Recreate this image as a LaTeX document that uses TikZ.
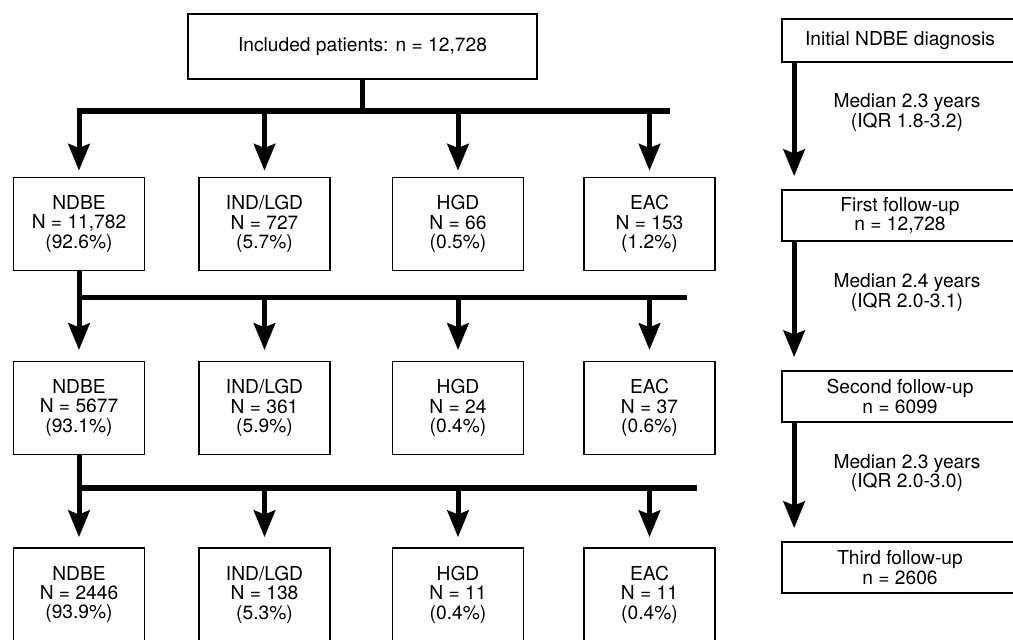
\documentclass[tikz,border=0pt]{standalone}
\usepackage{fontspec}
\setmainfont{TeX Gyre Heros}
\usetikzlibrary{arrows.meta,positioning}

\newcommand{\boxfont}{\fontsize{14.4pt}{14.6pt}\selectfont}

\begin{document}
\begin{tikzpicture}[x=0.75pt,y=-0.75pt,
  topbox/.style={draw,line width=1.3pt,minimum width=261.75pt,minimum height=48.75pt,inner sep=0pt,font=\boxfont},
  catbox/.style={draw,line width=1.3pt,minimum width=98.25pt,minimum height=69.75pt,inner sep=0pt,align=center,font=\boxfont},
  stagebox/.style={draw,line width=1.3pt,minimum width=177pt,minimum height=38.25pt,inner sep=0pt,align=center,font=\boxfont},
  note/.style={inner sep=0pt,align=center,font=\boxfont},
  flow/.style={line width=3.75pt,-{Stealth[length=20pt,width=16pt,inset=3pt]}},
  bar/.style={line width=4.2pt}]

\useasboundingbox (0,0) rectangle (1013,639);

%top box
\node[topbox] (incl) at (362.5,46.5) {Included patients: n = 12,728};

%first follow-up
\node[catbox] (ndbeA) at (79,224) {NDBE\\N = 11,782\\(92.6\%)};
\node[catbox] (indA) at (264.5,224) {IND/LGD\\N = 727\\(5.7\%)};
\node[catbox] (hgdA) at (458,224) {HGD\\N = 66\\(0.5\%)};
\node[catbox] (eacA) at (649.5,224) {EAC\\N = 153\\(1.2\%)};

%second follow-up
\node[catbox] (ndbeB) at (79,408) {NDBE\\N = 5677\\(93.1\%)};
\node[catbox] (indB) at (264.5,408) {IND/LGD\\N = 361\\(5.9\%)};
\node[catbox] (hgdB) at (458,408) {HGD\\N = 24\\(0.4\%)};
\node[catbox] (eacB) at (649.5,408) {EAC\\N = 37\\(0.6\%)};

%third follow-up
\node[catbox] (ndbeC) at (79,594.5) {NDBE\\N = 2446\\(93.9\%)};
\node[catbox] (indC) at (264.5,594.5) {IND/LGD\\N = 138\\(5.3\%)};
\node[catbox] (hgdC) at (458,594.5) {HGD\\N = 11\\(0.4\%)};
\node[catbox] (eacC) at (649.5,594.5) {EAC\\N = 11\\(0.4\%)};

%bars
\coordinate (barA) at (76.5,111);
\coordinate (barAend) at (670,111);
\coordinate (barB) at (76.5,297.5);
\coordinate (barBend) at (687,297.5);
\coordinate (barC) at (76.5,488);
\coordinate (barCend) at (697,488);

\draw[line width=3.75pt] (incl.south) -- (incl.south |- barA);
\draw[bar] (barA) -- (barAend);
\foreach \n in {ndbeA,indA,hgdA,eacA}
  \draw[flow] (\n.north |- barA) -- ([yshift=4.5pt]\n.north);

\draw[bar] (barB) -- (barBend);
\draw[flow] (ndbeA.south) -- ([yshift=8pt]ndbeB.north);
\foreach \n in {indB,hgdB,eacB}
  \draw[flow] (\n.north |- barB) -- ([yshift=8pt]\n.north);

\draw[bar] (barC) -- (barCend);
\draw[flow] (ndbeB.south) -- ([yshift=7.5pt]ndbeC.north);
\foreach \n in {indC,hgdC,eacC}
  \draw[flow] (\n.north |- barC) -- ([yshift=7.5pt]\n.north);

%time line
\node[stagebox,minimum height=32.25pt] (init) at (900,40.5) {Initial NDBE diagnosis};
\node[stagebox] (first) at (900,215.5) {First follow-up\\n = 12,728};
\node[stagebox] (second) at (900,396.5) {Second follow-up\\n = 6099};
\node[stagebox] (third) at (900,567.5) {Third follow-up\\n = 2606};

\node[note] (gapA) at (907,112.5) {Median 2.3 years\\(IQR 1.8-3.2)};
\node[note] (gapB) at (907,292.5) {Median 2.4 years\\(IQR 2.0-3.1)};
\node[note] (gapC) at (907,473) {Median 2.3 years\\(IQR 2.0-3.0)};

\draw[flow] ([xshift=9.75pt]init.south west) -- ([xshift=9.75pt,yshift=9.75pt]first.north west);
\draw[flow] ([xshift=9.75pt]first.south west) -- ([xshift=9.75pt,yshift=9.75pt]second.north west);
\draw[flow] ([xshift=9.75pt]second.south west) -- ([xshift=9.75pt,yshift=9.75pt]third.north west);

\end{tikzpicture}
\end{document}
